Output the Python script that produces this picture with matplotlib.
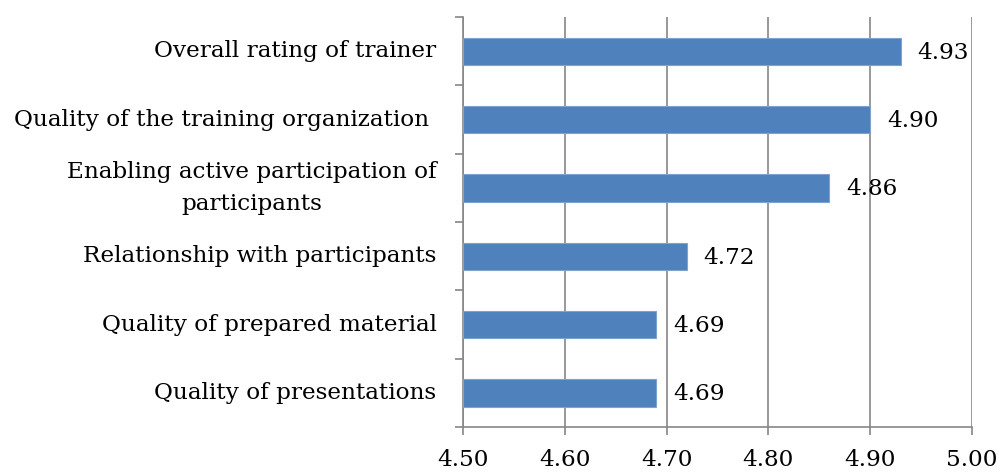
import matplotlib.pyplot as plt
import numpy as np

categories = [
    "Overall rating of trainer",
    "Quality of the training organization ",
    "Enabling active participation of\nparticipants",
    "Relationship with participants",
    "Quality of prepared material",
    "Quality of presentations",
]
scores = [4.93, 4.90, 4.86, 4.72, 4.69, 4.69]
xticks = [4.50, 4.60, 4.70, 4.80, 4.90, 5.00]

plt.rcParams["font.family"] = ["DejaVu Serif"]
fs = 16.7

fig = plt.figure(figsize=(10, 4.73), dpi=100)
ax = fig.add_axes([0.463, 0.097, 0.509, 0.867])

grey = "#868686"
bar_color = "#4F81BD"

# categories from top to bottom
ypos = np.arange(len(categories))[::-1]
lows = 4.5
ax.barh(ypos, np.array(scores) - lows, left=lows, height=0.4,
        color=bar_color, edgecolor="#7FA3D1", linewidth=0.8, zorder=3)

for y, v in zip(ypos, scores):
    ax.annotate(f"{v:.2f}", (v, y), xytext=(12, -1), textcoords="offset points",
                va="center", ha="left", fontsize=fs, zorder=4)

ax.set_xlim(4.5, 5.0)
ax.set_ylim(-0.5, len(categories) - 0.5)
ax.set_xticks(xticks)
ax.set_xticklabels([f"{t:.2f}" for t in xticks], fontsize=fs)

# category labels at bar centres, tick marks at category boundaries
ax.set_yticks(ypos)
ax.set_yticklabels(categories, fontsize=fs, ha="right", va="center",
                   multialignment="center", linespacing=1.6)
ax.set_yticks(np.arange(-0.5, len(categories), 1.0), minor=True)
ax.tick_params(axis="y", which="major", length=0, pad=19)
ax.tick_params(axis="y", which="minor", length=6, width=1.2, color=grey)
ax.tick_params(axis="x", length=6, width=1.2, color=grey, pad=10)

ax.grid(axis="x", color=grey, linewidth=1.2, zorder=0)
ax.set_axisbelow(True)
for s in ["top", "right"]:
    ax.spines[s].set_visible(False)
for s in ["left", "bottom"]:
    ax.spines[s].set_color(grey)
    ax.spines[s].set_linewidth(1.2)

fig.savefig("out.png", dpi=100)
